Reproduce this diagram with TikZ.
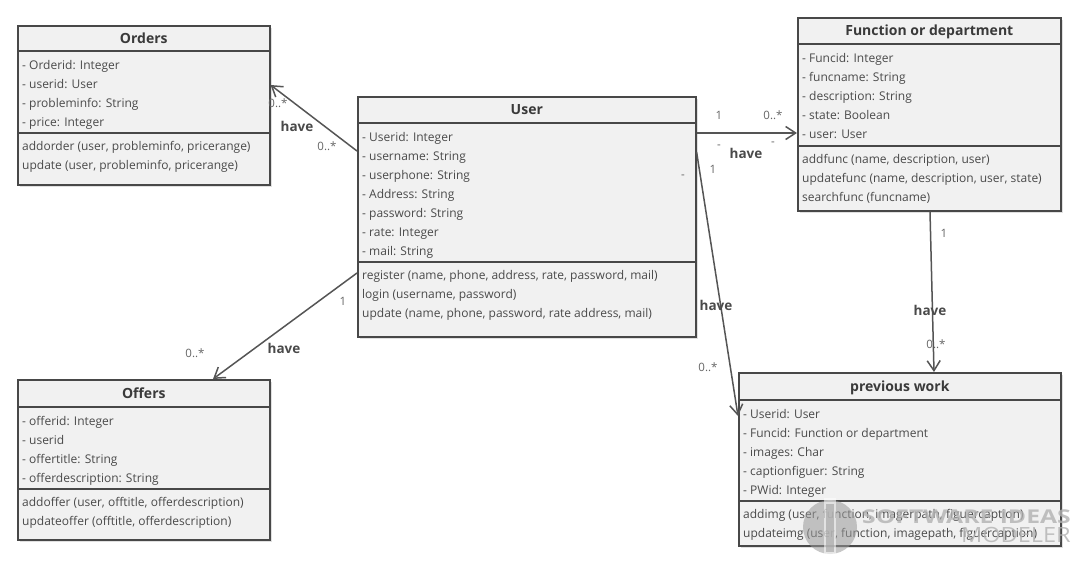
\documentclass[tikz,border=0pt]{standalone}
\usepackage{fontspec}
\setmainfont{Open Sans}
\usetikzlibrary{calc,arrows.meta,shadows}

\definecolor{boxfill}{HTML}{F1F1F1}
\definecolor{boxedge}{HTML}{484848}
\definecolor{membertext}{HTML}{4A4A4A}
\definecolor{titletext}{HTML}{3A3A3A}
\definecolor{linkgray}{HTML}{555555}
\definecolor{multgray}{HTML}{666666}

\tikzset{
  classbox/.style={draw=boxedge, line width=1.6pt, fill=boxfill, rectangle, inner sep=0pt,
    anchor=north west,
    drop shadow={shadow xshift=2.5pt, shadow yshift=-2.5pt, opacity=0.12, fill=black}},
  classtitle/.style={inner sep=0pt, text height=10pt, text depth=0pt, text=titletext,
    font=\fontsize{14}{16}\selectfont\bfseries},
  classrule/.style={draw=boxedge, line width=1.6pt},
  members/.style={anchor=north west, inner sep=0pt, align=left, text=membertext,
    font=\fontsize{12}{19}\selectfont},
  assoc/.style={draw=linkgray, line width=1.5pt,
    -{Straight Barb[length=10pt, width=13pt, line width=1.5pt]}},
  mult/.style={inner sep=0pt, text=multgray, font=\fontsize{11.5}{13}\selectfont},
  rolename/.style={inner sep=0pt, text=membertext, font=\fontsize{13.5}{15}\selectfont\bfseries},
  watermark/.style={inner sep=0pt, anchor=east, text=gray!60, opacity=0.8},
}

\begin{document}
\begin{tikzpicture}[x=1pt, y=-1pt]
\useasboundingbox (0,0) rectangle (1080,566);
\fill[white] (0,0) rectangle (1080,566);

% ---------- Orders ----------
\node[classbox, minimum width=252pt, minimum height=159pt] (orders) at (17,25) {};
\node[classtitle] (orders-title) at ($(orders.north)+(0,13)$) {Orders};
\draw[classrule] ($(orders.north west)+(0,26)$) -- ($(orders.north east)+(0,26)$);
\draw[classrule] ($(orders.north west)+(0,108)$) -- ($(orders.north east)+(0,108)$);
\node[members] (orders-attr) at ($(orders.north west)+(5,30.5)$)
  {\strut- Orderid: Integer\\\strut- userid: User\\\strut- probleminfo: String\\\strut- price: Integer};
\node[members] (orders-ops) at ($(orders.north west)+(5,111.5)$)
  {\strut addorder (user, probleminfo, pricerange)\\\strut update (user, probleminfo, pricerange)};

% ---------- User ----------
\node[classbox, minimum width=338pt, minimum height=240pt] (user) at (357,96) {};
\node[classtitle] (user-title) at ($(user.north)+(0,13.5)$) {User};
\draw[classrule] ($(user.north west)+(0,27)$) -- ($(user.north east)+(0,27)$);
\draw[classrule] ($(user.north west)+(0,166)$) -- ($(user.north east)+(0,166)$);
\node[members] (user-attr) at ($(user.north west)+(5,31.5)$)
  {\strut- Userid: Integer\\\strut- username: String\\\strut- userphone: String\\\strut- Address: String\\\strut- password: String\\\strut- rate: Integer\\\strut- mail: String};
\node[members] (user-ops) at ($(user.north west)+(5,169.5)$)
  {\strut register (name, phone, address, rate, password, mail)\\\strut login (username, password)\\\strut update (name, phone, password, rate address, mail)};

% ---------- Function or department ----------
\node[classbox, minimum width=263pt, minimum height=193pt] (func) at (797,17) {};
\node[classtitle] (func-title) at ($(func.north)+(0,13.5)$) {Function or department};
\draw[classrule] ($(func.north west)+(0,27)$) -- ($(func.north east)+(0,27)$);
\draw[classrule] ($(func.north west)+(0,129)$) -- ($(func.north east)+(0,129)$);
\node[members] (func-attr) at ($(func.north west)+(5,31.5)$)
  {\strut- Funcid: Integer\\\strut- funcname: String\\\strut- description: String\\\strut- state: Boolean\\\strut- user: User};
\node[members] (func-ops) at ($(func.north west)+(5,132.5)$)
  {\strut addfunc (name, description, user)\\\strut updatefunc (name, description, user, state)\\\strut searchfunc (funcname)};

% ---------- Offers ----------
\node[classbox, minimum width=252pt, minimum height=160pt] (offers) at (17,379) {};
\node[classtitle] (offers-title) at ($(offers.north)+(0,14)$) {Offers};
\draw[classrule] ($(offers.north west)+(0,28)$) -- ($(offers.north east)+(0,28)$);
\draw[classrule] ($(offers.north west)+(0,110)$) -- ($(offers.north east)+(0,110)$);
\node[members] (offers-attr) at ($(offers.north west)+(5,32.5)$)
  {\strut- offerid: Integer\\\strut- userid\\\strut- offertitle: String\\\strut- offerdescription: String};
\node[members] (offers-ops) at ($(offers.north west)+(5,113.5)$)
  {\strut addoffer (user, offtitle, offerdescription)\\\strut updateoffer (offtitle, offerdescription)};

% ---------- previous work ----------
\node[classbox, minimum width=322pt, minimum height=173pt] (prev) at (738,372) {};
\node[classtitle] (prev-title) at ($(prev.north)+(0,14)$) {previous work};
\draw[classrule] ($(prev.north west)+(0,28)$) -- ($(prev.north east)+(0,28)$);
\draw[classrule] ($(prev.north west)+(0,129)$) -- ($(prev.north east)+(0,129)$);
\node[members] (prev-attr) at ($(prev.north west)+(5,32.5)$)
  {\strut- Userid: User\\\strut- Funcid: Function or department\\\strut- images: Char\\\strut- captionfiguer: String\\\strut- PWid: Integer};
\node[members] (prev-ops) at ($(prev.north west)+(5,132.5)$)
  {\strut addimg (user, function, imagerpath, figuercaption)\\\strut updateimg (user, function, imagepath, figuercaption)};

% ---------- associations ----------
\draw[assoc] ($(user.north west)+(0,55)$) -- ($(orders.north east)+(0,60)$);
\draw[assoc] ($(user.north east)+(0,37)$) -- ($(func.north west)+(0,116)$);
\draw[assoc] ($(user.north east)+(0,56)$) -- ($(prev.north west)+(0,44)$);
\draw[assoc] ($(func.south west)+(133,0)$) -- ($(prev.north west)+(196,0)$);
\draw[assoc] ($(user.north west)+(0,177)$) -- ($(offers.north west)+(196,0)$);

% ---------- association labels ----------
\node[mult] (m-orders-far) at (278,103) {0..*};
\node[rolename] (r-orders) at (297,126) {have};
\node[mult] (m-orders-near) at (327,146) {0..*};

\node[mult] (m-func-near) at (719,115) {1};
\node[mult] (m-func-far) at (773,115) {0..*};
\node[mult] (d-func-a) at (719,147) {-};
\node[rolename] (r-func) at (746,153) {have};
\node[mult] (d-func-b) at (773,144) {-};
\node[mult] (m-prev-near) at (713,169) {1};
\node[mult] (d-prev) at (683,177) {-};

\node[rolename] (r-prev) at (716,305) {have};
\node[mult] (m-prev-far) at (708,367) {0..*};

\node[mult] (m-fp-near) at (944,233) {1};
\node[rolename] (r-fp) at (930,310) {have};
\node[mult] (m-fp-far) at (936,344) {0..*};

\node[mult] (m-offers-near) at (343,301) {1};
\node[rolename] (r-offers) at (284,348) {have};
\node[mult] (m-offers-far) at (195,353) {0..*};

% ---------- watermark ----------
\begin{scope}[opacity=0.55]
  \fill[gray!80] (830,527) circle (27);
  \fill[white] (824,498) rectangle (836,556);
  \fill[gray!80] (826,504) rectangle (834,552);
\end{scope}
\node[watermark, xscale=1.3, font=\fontsize{19}{20}\selectfont\bfseries] (wm-top) at (1071,517) {SOFTWARE IDEAS};
\node[watermark, xscale=1.12, font=\fontsize{21}{22}\selectfont] (wm-bottom) at (1071,535) {MODELER};
\end{tikzpicture}
\end{document}
